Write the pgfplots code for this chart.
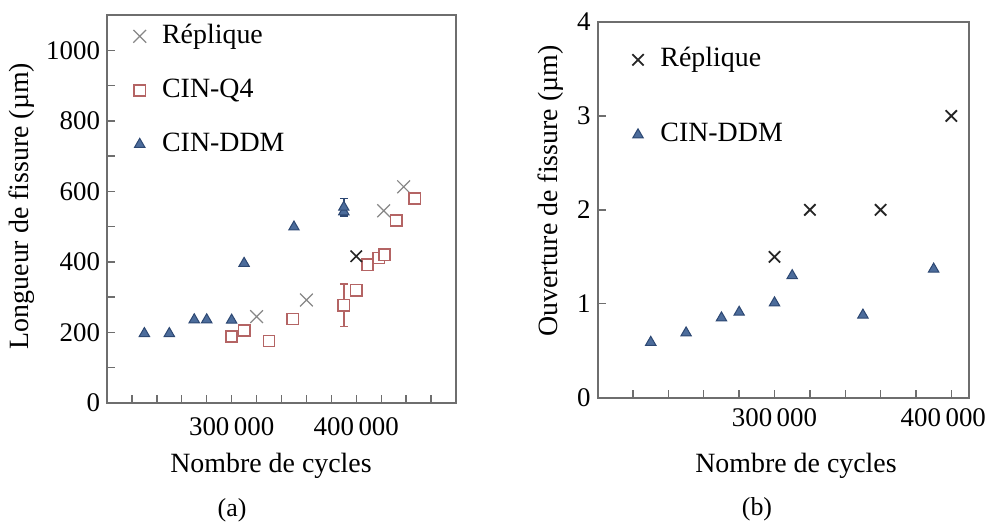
\documentclass[border=0pt]{standalone}
\usepackage{pgfplots}
\pgfplotsset{compat=1.18}
\usepackage{fontspec}
\setmainfont{Liberation Serif}
\definecolor{repgray}{RGB}{135,135,135}
\definecolor{qred}{RGB}{180,100,100}
\definecolor{dfill}{RGB}{76,108,155}
\definecolor{ddraw}{RGB}{45,72,115}
\definecolor{frame}{RGB}{110,110,110}
\newcommand{\tfont}{\fontsize{13.5}{16}\selectfont}
\newcommand{\lfont}{\fontsize{14}{17}\selectfont}
\pgfplotsset{
  common/.style={
    scale only axis,
    axis line style={frame, line width=0.8bp},
    tick align=inside,
    xtick pos=left, ytick pos=left,
    major tick length=4bp, minor tick length=4bp,
    every tick/.style={frame, line width=0.7bp},
    tick label style={font=\tfont},
    /pgf/number format/assume math mode=true,
    /pgf/number format/1000 sep={},
    scaled ticks=false,
    legend cell align=left,
    legend image code/.code={\path (0bp,0bp) (16bp,0bp); \draw[mark repeat=2,mark phase=2,##1] plot coordinates {(0bp,0bp)(6bp,0bp)(12bp,0bp)};},
  },
  repstyle/.style={only marks, mark=x, mark size=4.5bp, mark options={draw=repgray, line width=0.6bp}},
  qstyle/.style={only marks, mark=square*, mark size=2.8bp, mark options={draw=qred, fill=white, line width=0.8bp}},
  dstyle/.style={only marks, mark=triangle*, mark size=3bp, mark options={draw=ddraw, fill=dfill, line width=0.5bp}},
}
\begin{document}
\begin{tikzpicture}
\useasboundingbox (0,0) rectangle (495.5bp,-262.5bp);
% ---------------- (a)
\begin{axis}[common,
  at={(53.5bp,-201.5bp)}, anchor=south west,
  width=174.5bp, height=194bp,
  xmin=200000, xmax=480000, ymin=0, ymax=1100,
  xtick={300000,400000}, xticklabels={300\,000,400\,000},
  minor xtick={220000,240000,260000,280000,320000,340000,360000,380000,420000,440000,460000},
  ytick={0,200,400,600,800,1000},
  minor ytick={100,300,500,700,900},
  xticklabel style={yshift=-4bp},
  legend style={draw=none, fill=none, at={(0.04,0.995)}, anchor=north west,
    font=\lfont, row sep=12bp,
    nodes={inner sep=1bp, text height=10bp, text depth=3bp}},
]
\addplot[repstyle] coordinates {
(320000,245) (360000,292) (422000,545) (438000,613)
};
\addlegendentry{Réplique}
\addplot[qstyle] coordinates {
(300000,188) (310000,206) (330000,176) (349000,238) (400000,320)
(409000,392) (418000,411) (422500,420) (432000,517) (447000,580)
};
\addlegendentry{CIN-Q4}
\addplot[dstyle] coordinates {
(230000,197) (250000,197) (270000,236) (280000,236) (300000,235)
(310000,396) (350000,499) (390000,542)
};
\addlegendentry{CIN-DDM}
\addplot[qstyle, forget plot, error bars/.cd, y dir=both, y explicit,
  error mark options={rotate=90, mark size=2bp, qred, line width=0.8bp},
  error bar style={qred, line width=0.8bp}]
  coordinates {(390000,277) +- (0,60)};
\addplot[dstyle, forget plot, error bars/.cd, y dir=both, y explicit,
  error mark options={rotate=90, mark size=2bp, ddraw, line width=0.8bp},
  error bar style={ddraw, line width=0.8bp}]
  coordinates {(390000,555) +- (0,25)};
\addplot[only marks, mark=x, mark size=4bp, mark options={draw=black!85, line width=0.8bp}, forget plot]
  coordinates {(400000,416)};
\end{axis}
% ---------------- (b)
\begin{axis}[common,
  at={(298.85bp,-198.85bp)}, anchor=south west,
  width=185.65bp, height=187.85bp,
  xmin=200000, xmax=410000, ymin=0, ymax=4,
  xtick={300000,400000}, xticklabels={300\,000,\kern-8bp 400\,000},
  minor xtick={220000,240000,260000,280000,320000,340000,360000,380000},
  ytick={0,1,2,3,4},
  xticklabel style={yshift=-2bp},
  legend style={draw=none, fill=none, at={(0.058,0.951)}, anchor=north west,
    font=\lfont, row sep=22.5bp,
    nodes={inner sep=1bp, text height=10bp, text depth=3bp}},
]
\addplot[only marks, mark=x, mark size=4bp, mark options={draw=black!85, line width=0.9bp}] coordinates {
(300000,1.5) (320000,2.0) (360000,2.0) (400000,3.0)
};
\addlegendentry{Réplique}
\addplot[dstyle] coordinates {
(230000,0.59) (250000,0.69) (270000,0.85) (280000,0.91) (300000,1.01)
(310000,1.30) (350000,0.88) (390000,1.37)
};
\addlegendentry{CIN-DDM}
\end{axis}
% ---------------- labels
\node[rotate=90, font=\lfont] at (11bp,-103bp) {Longueur de fissure (µm)};
\node[rotate=90, font=\lfont] at (275.5bp,-95.5bp) {Ouverture de fissure (µm)};
\node[anchor=base, font=\lfont] at (135.5bp,-236bp) {Nombre de cycles};
\node[anchor=base, font=\lfont] at (398bp,-236bp) {Nombre de cycles};
\node[anchor=base, font=\fontsize{13}{15}\selectfont] at (116bp,-258bp) {(a)};
\node[anchor=base, font=\fontsize{13}{15}\selectfont] at (378.5bp,-257.5bp) {(b)};
\end{tikzpicture}
\end{document}
